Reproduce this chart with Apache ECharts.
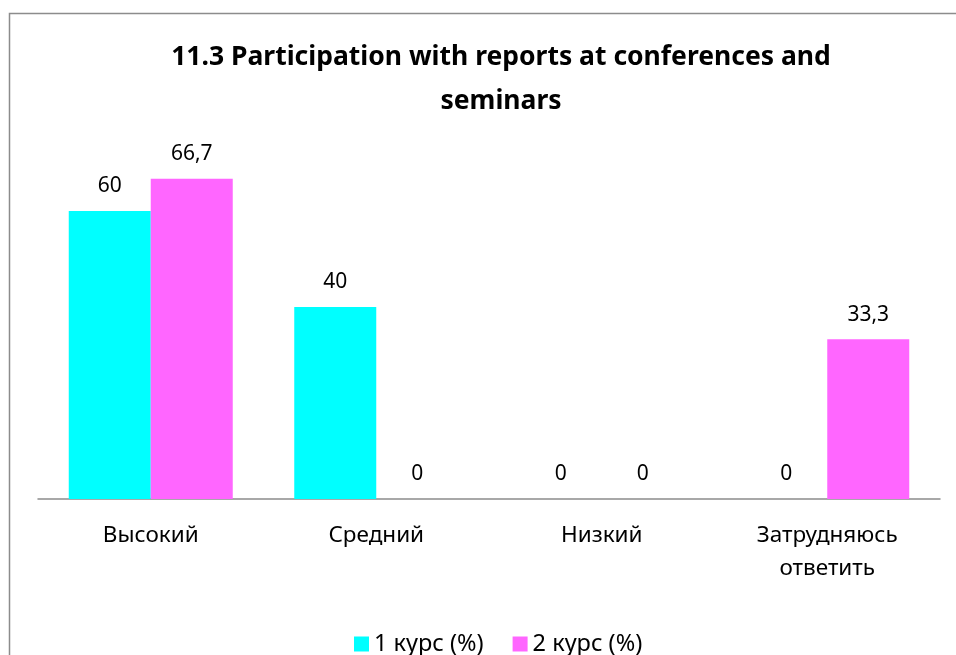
<!DOCTYPE html>
<html><head><meta charset="utf-8">
<script src="https://cdn.jsdelivr.net/npm/echarts@6/dist/echarts.min.js"></script>
<style>html,body{margin:0;padding:0;background:#fff}#c{width:956px;height:655px}</style>
</head><body><div id="c"></div>
<script>
const titleText = '11.3 Participation with reports at conferences and\nseminars';
const categories = ['Высокий', 'Средний', 'Низкий', 'Затрудняюсь\nответить'];
const seriesNames = ['1 курс (%)', '2 курс (%)'];
const course1 = [60, 40, 0, 0];
const course2 = [66.7, 0, 0, 33.3];
const colors = ['#00FFFF', '#FF66FF'];
const FONT = 'Noto Sans';

const chart = echarts.init(document.getElementById('c'), null, {renderer: 'canvas'});
const fmt = p => String(p.value).replace('.', ',');
const labelCfg = {show: true, position: 'top', distance: 14, formatter: fmt, fontFamily: FONT, fontSize: 21, color: '#000'};
chart.setOption({
  animation: false,
  backgroundColor: '#fff',
  graphic: [{
    type: 'rect', shape: {x: 9.5, y: 13.5, width: 960, height: 700},
    style: {fill: 'none', stroke: '#8c8c8c', lineWidth: 1.5}, silent: true
  }],
  title: {
    text: titleText, left: 496, top: 30, textAlign: 'center',
    textStyle: {fontFamily: FONT, fontWeight: 'bold', fontSize: 26.5, color: '#000', lineHeight: 44}
  },
  legend: {
    data: seriesNames, top: 632, left: 354, padding: 0, itemWidth: 15, itemHeight: 15, itemGap: 29,
    icon: 'rect', textStyle: {fontFamily: FONT, fontSize: 23.5, color: '#000'}
  },
  grid: {left: 38, right: 16, top: 163, bottom: 156, containLabel: false},
  xAxis: {
    type: 'category', data: categories,
    axisLine: {lineStyle: {color: '#8c8c8c', width: 1.5}},
    axisTick: {show: false},
    axisLabel: {fontFamily: FONT, fontSize: 22.5, color: '#000', margin: 20, lineHeight: 33, interval: 0}
  },
  yAxis: {type: 'value', min: 0, max: 70, show: false, splitLine: {show: false}},
  series: [
    {name: seriesNames[0], type: 'bar', data: course1, barWidth: 82, barGap: '0%', barCategoryGap: '27%',
     itemStyle: {color: colors[0]}, label: labelCfg},
    {name: seriesNames[1], type: 'bar', data: course2, barWidth: 82, barGap: '0%',
     itemStyle: {color: colors[1]}, label: labelCfg}
  ]
});
</script></body></html>
